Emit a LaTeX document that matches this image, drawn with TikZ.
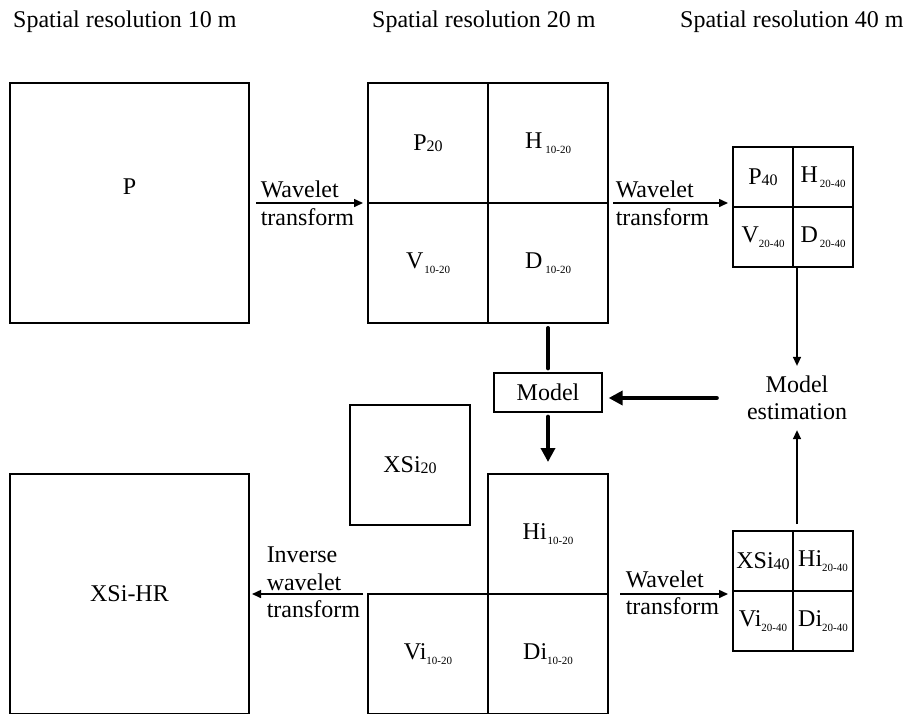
\documentclass[tikz,border=0pt]{standalone}
\usepackage{fontspec}
\setmainfont{Liberation Serif}
\usetikzlibrary{arrows.meta}
\newcommand{\bigsub}[1]{\raisebox{-1.5pt}{\fontsize{16}{16}\selectfont #1}}
\newcommand{\tinysub}[1]{\raisebox{-4.5pt}{\fontsize{11}{11}\selectfont #1}}

\begin{document}
\begin{tikzpicture}[x=1pt,y=-1pt,
  every node/.style={font=\fontsize{24}{27}\selectfont,inner sep=0pt},
  img/.style={rectangle,draw,line width=2pt,minimum width=#1,minimum height=#1},
  img/.default=120,
  thinarrow/.style={-{Triangle[length=9pt,width=8pt]},line width=1.5pt},
  thicklink/.style={line width=4pt,line cap=round},
  thickarrow/.style={-{Triangle[length=14pt,width=14pt]},line width=4pt,line cap=round},
  wt/.style={anchor=base west}]
\clip (0,0) rectangle (911,713);
% resolution headers
\node[anchor=base west] (t10) at (13,27) {Spatial resolution 10 m};
\node[anchor=base west] (t20) at (372,27) {Spatial resolution 20 m};
\node[anchor=base west] (t40) at (680,27) {Spatial resolution 40 m};
% 10 m image
\node[img=240,minimum width=239] (pbox) at (129.5,203) {};
\node[yshift=16pt] (ptxt) at (pbox) {P};
% 20 m decomposition
\node[img] (p20) at (428,143) {P\bigsub{20}};
\node[img] (h1020) at (548,143) {H\kern3pt\tinysub{10-20}};
\node[img] (v1020) at (428,263) {V\kern1pt\tinysub{10-20}};
\node[img] (d1020) at (548,263) {D\kern3pt\tinysub{10-20}};
% 40 m decomposition
\node[img=60] (p40) at (763,177) {P\bigsub{40}};
\node[img=60] (h2040) at (823,177) {H\kern2pt\tinysub{20-40}};
\node[img=60] (v2040) at (763,237) {V\tinysub{20-40}};
\node[img=60] (d2040) at (823,237) {D\kern2pt\tinysub{20-40}};
% model
\node[draw,line width=1.3pt,minimum width=108,minimum height=39] (mdl) at (548,392.5) {Model};
\node[align=center,inner sep=10pt] (est) at (797,398) {Model\\estimation};
% XS bands
\node[img] (xsi20) at (410,465) {XSi\bigsub{20}};
\node[img] (hi1020) at (548,534) {Hi\kern1pt\tinysub{10-20}};
\node[img] (vi1020) at (428,654) {Vi\tinysub{10-20}};
\node[img] (di1020) at (548,654) {Di\tinysub{10-20}};
\node[img=240,minimum width=239] (xsihr) at (129.5,594) {XSi-HR};
\node[img=60] (xsi40) at (763,561) {XSi\bigsub{40}};
\node[img=60] (hi2040) at (823,561) {Hi\tinysub{20-40}};
\node[img=60] (vi2040) at (763,621) {Vi\tinysub{20-40}};
\node[img=60] (di2040) at (823,621) {Di\tinysub{20-40}};
% transforms
\draw[thinarrow,shorten <=6pt,shorten >=4pt] (pbox.east) -- (pbox.east -| p20.west)
  node[wt,pos=0,xshift=10pt,yshift=6pt] {Wavelet}
  node[wt,pos=0,xshift=10pt,yshift=-22pt] {transform};
\draw[thinarrow,shorten <=4pt,shorten >=4pt] (h1020.east |- pbox.east) -- (p40.west |- pbox.east)
  node[wt,pos=0,xshift=6pt,yshift=6pt] {Wavelet}
  node[wt,pos=0,xshift=6pt,yshift=-22pt] {transform};
\draw[thinarrow,shorten <=11pt,shorten >=4pt] (hi1020.east |- xsihr) -- (xsi40.west |- xsihr)
  node[wt,pos=0,xshift=16pt,yshift=7pt] {Wavelet}
  node[wt,pos=0,xshift=16pt,yshift=-20pt] {transform};
\draw[thinarrow,shorten <=4pt,shorten >=2pt] (vi1020.west |- xsihr) -- (xsihr.east)
  node[wt,pos=1,xshift=16pt,yshift=32pt] {Inverse}
  node[wt,pos=1,xshift=16pt,yshift=4pt] {wavelet}
  node[wt,pos=1,xshift=16pt,yshift=-23pt] {transform};
% model estimation links
\draw[thinarrow] (est |- d2040.south) -- (est.north);
\draw[thinarrow,shorten <=6pt] (est |- xsi40.north) -- (est.south);
\draw[thicklink,shorten <=4pt,shorten >=4pt] (mdl.north |- d1020.south) -- (mdl.north);
\draw[thickarrow,shorten <=4pt,shorten >=11pt] (mdl.south) -- (mdl.south |- hi1020.north);
\draw[thickarrow,shorten <=20pt,shorten >=6pt] (est.west) -- (mdl.east |- est.west);
\end{tikzpicture}
\end{document}
